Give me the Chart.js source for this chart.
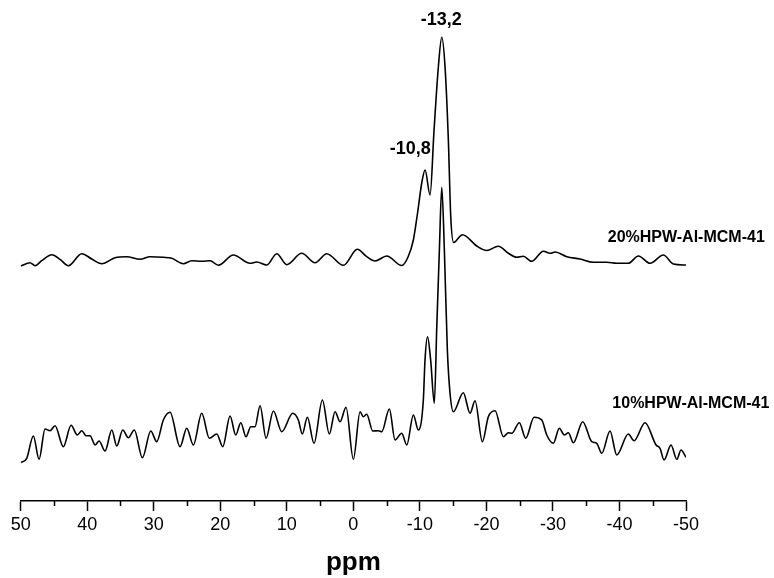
<!DOCTYPE html>
<html><head><meta charset="utf-8">
<script src="https://cdn.jsdelivr.net/npm/chart.js@4/dist/chart.umd.min.js"></script>
<style>html,body{margin:0;padding:0;background:#fff}canvas{display:block}</style>
</head><body>
<canvas id="c" width="774" height="578"></canvas>
<script>
// Chemical shift (ppm) and intensity (a.u., stacked) for each sample
const ppm20 = [50.0, 48.6, 47.84, 46.84, 45.33, 44.09, 42.84, 40.82, 39.32, 37.82, 35.82, 34.06, 32.06, 30.56, 28.56, 27.30, 25.55, 24.29, 22.79, 21.54, 20.29, 18.04, 15.53, 14.52, 13.02, 11.51, 10.01, 7.76, 5.76, 4.00, 1.50, -0.60, -2.01, -3.26, -5.02, -7.27, -8.22, -9.02, -9.65, -10.28, -10.78, -11.53, -12.13, -12.78, -13.29, -13.78, -14.28, -14.64, -15.08, -16.4, -18.55, -20.05, -21.79, -23.30, -24.56, -25.55, -26.81, -28.56, -29.57, -30.32, -32.08, -34.07, -36.07, -38.09, -39.59, -41.33, -42.84, -44.60, -46.60, -48.10, -50.0];
const int20 = [235, 238.3, 235.3, 240.3, 246.3, 241.7, 235.3, 247.3, 242, 237.3, 243.3, 244.3, 241.7, 244.3, 243.7, 242.7, 237.3, 240.3, 239.7, 240.3, 235.7, 246, 237.7, 239, 236, 247.3, 236.3, 247.7, 238.3, 247.3, 235.7, 251.7, 244.3, 240, 245, 235.5, 244, 261, 288, 318, 331, 306, 371, 434.3, 463.7, 434.3, 361, 284.3, 258.5, 266.3, 255, 250.5, 254.7, 247.7, 243.7, 244.7, 239.7, 249.7, 247.7, 249, 244.3, 242, 238.7, 238.7, 237.7, 237.7, 245, 237.7, 246, 237, 236];

const ppm10 = [50.0, 49.09, 48.10, 47.24, 46.34, 45.59, 44.84, 43.59, 42.43, 41.49, 40.82, 40.18, 39.58, 38.82, 38.22, 37.32, 36.31, 35.56, 34.66, 33.82, 32.92, 31.71, 30.45, 29.55, 28.56, 27.55, 26.05, 25.04, 24.05, 22.79, 21.64, 20.53, 19.63, 18.53, 17.68, 16.92, 16.13, 15.42, 14.78, 14.02, 13.12, 12.02, 10.76, 9.11, 8.27, 7.67, 6.91, 5.91, 4.66, 3.61, 2.75, 2.00, 1.10, 0.00, -1.01, -1.50, -2.01, -2.92, -3.76, -4.27, -5.41, -6.27, -7.27, -8.03, -9.02, -9.77, -10.52, -10.77, -11.15, -11.62, -12.17, -12.54, -12.93, -13.29, -13.68, -14.13, -14.53, -15.03, -16.53, -17.54, -18.29, -19.39, -20.29, -21.30, -22.55, -23.30, -23.81, -24.95, -25.91, -27.16, -28.32, -29.07, -30.06, -30.96, -31.71, -32.32, -33.07, -34.48, -35.83, -36.58, -37.34, -38.58, -39.59, -41.33, -42.19, -43.84, -45.50, -46.10, -46.70, -47.75, -48.61, -49.26, -50.0];
const int10 = [38.3, 42.7, 65, 41.7, 72, 70.3, 75.3, 54.3, 75.7, 66, 70.3, 65.3, 65.3, 56, 60, 50, 71, 55, 71, 63.3, 71, 43.3, 70, 59.3, 81, 88.7, 54.3, 72.7, 56, 87.7, 62.7, 67, 54.3, 85, 66, 78.3, 64.3, 74.3, 74.3, 95.3, 62.7, 90, 69.3, 87.7, 81, 67, 83.7, 57.7, 101, 67, 89.3, 79.3, 93.7, 41.7, 89.3, 84.3, 86.7, 70, 70.3, 69.3, 92, 61, 67.7, 56, 86, 71, 101, 141, 164.3, 141, 97.7, 174.3, 251, 313.7, 251, 151, 108, 89.3, 108.3, 87.7, 100.3, 59.3, 84.3, 90.3, 64.3, 68.3, 67.7, 78.3, 62.7, 83.7, 81, 66, 57.7, 72.7, 66, 68.3, 58.3, 79.3, 59.3, 57.7, 47.7, 70, 46, 67, 60.3, 78.3, 56, 52.7, 41, 56, 41.7, 51, 43.7];

const xTicks = [50, 40, 30, 20, 10, 0, -10, -20, -30, -40, -50];
const xMinorTicks = [45, 35, 25, 15, 5, -5, -15, -25, -35, -45];
const seriesNames = ['20%HPW-Al-MCM-41', '10%HPW-Al-MCM-41'];
const peakLabels = ['-13,2', '-10,8'];

const toPoints = (xs, ys) => xs.map((v, i) => ({x: v, y: ys[i]}));

const textNotes = {
  id: 'textNotes',
  afterDatasetsDraw(chart, args, opts) {
    const {ctx, scales: {x, y}} = chart;
    ctx.save();
    ctx.fillStyle = '#000';
    ctx.textBaseline = 'middle';
    opts.items.forEach(it => {
      ctx.font = it.font;
      ctx.textAlign = it.align;
      ctx.fillText(it.text, x.getPixelForValue(it.x), y.getPixelForValue(it.y));
    });
    ctx.restore();
  }
};

const minorTicks = {
  id: 'minorTicks',
  afterDraw(chart, args, opts) {
    const {ctx, chartArea, scales: {x}} = chart;
    ctx.save();
    ctx.strokeStyle = '#000';
    ctx.lineWidth = opts.width;
    opts.values.forEach(v => {
      const px = Math.round(x.getPixelForValue(v)) + 0.5;
      ctx.beginPath();
      ctx.moveTo(px, chartArea.bottom);
      ctx.lineTo(px, chartArea.bottom + opts.length);
      ctx.stroke();
    });
    ctx.restore();
  }
};

new Chart(document.getElementById('c'), {
  type: 'line',
  data: {
    datasets: [
      {label: seriesNames[0], data: toPoints(ppm20, int20)},
      {label: seriesNames[1], data: toPoints(ppm10, int10)}
    ]
  },
  options: {
    responsive: false,
    animation: false,
    devicePixelRatio: 1,
    layout: {padding: {left: 20.7, right: 88, top: 0, bottom: 0}},
    elements: {
      line: {borderColor: '#000', borderWidth: 1.6, cubicInterpolationMode: 'monotone', fill: false},
      point: {radius: 0, hoverRadius: 0}
    },
    plugins: {
      legend: {display: false},
      tooltip: {enabled: false},
      textNotes: {items: [
        {text: peakLabels[0], x: -13.2, y: 481, align: 'center', font: 'bold 18px "Liberation Sans", Arial, sans-serif'},
        {text: peakLabels[1], x: -8.57, y: 352.3, align: 'center', font: 'bold 18px "Liberation Sans", Arial, sans-serif'},
        {text: seriesNames[0], x: -38.24, y: 263, align: 'left', font: 'bold 16px "Liberation Sans", Arial, sans-serif'},
        {text: seriesNames[1], x: -38.93, y: 97.7, align: 'left', font: 'bold 16px "Liberation Sans", Arial, sans-serif'}
      ]},
      minorTicks: {values: xMinorTicks, length: 5, width: 1.5}
    },
    scales: {
      x: {
        type: 'linear', reverse: true, min: -50, max: 50, position: 'bottom',
        afterBuildTicks: s => { s.ticks = xTicks.map(v => ({value: v})); },
        afterFit: s => { s.height = 77; },
        border: {display: true, color: '#000', width: 1.5},
        grid: {drawOnChartArea: false, drawTicks: true, tickLength: 10, tickColor: '#000', tickWidth: 1.5},
        ticks: {color: '#000', font: {family: 'Liberation Sans', size: 18}, padding: 3, maxRotation: 0, autoSkip: false, callback: v => String(v)},
        title: {display: true, text: 'ppm', color: '#000', font: {family: 'Liberation Sans', size: 26, weight: 'bold'}, padding: {top: 0, bottom: 0}}
      },
      y: {display: false, min: 0, max: 501}
    }
  },
  plugins: [textNotes, minorTicks]
});
</script>
</body></html>
